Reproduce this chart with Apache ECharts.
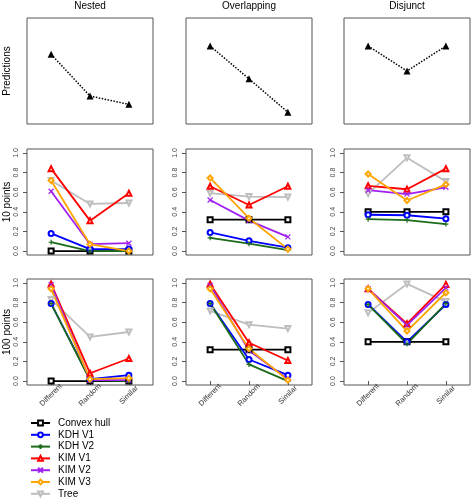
<!DOCTYPE html>
<html>
<head>
<meta charset="utf-8">
<script src="https://cdn.jsdelivr.net/npm/echarts@6/dist/echarts.min.js"></script>
<style>html,body{margin:0;padding:0;background:#fff}#c{width:472px;height:500px}</style>
</head>
<body>
<div id="c"></div>
<script>
// ---- data ----
const categories = ['Different', 'Random', 'Similar'];
const columnTitles = ['Nested', 'Overlapping', 'Disjunct'];
const rowTitles = ['Predictions', '10 points', '100 points'];
const seriesNames = ['Convex hull', 'KDH V1', 'KDH V2', 'KIM V1', 'KIM V2', 'KIM V3', 'Tree'];
const yTicks = [0, 0.2, 0.4, 0.6, 0.8, 1.0];

const predNested = [0.67, 0.245, 0.16];
const predOverlapping = [0.755, 0.42, 0.08];
const predDisjunct = [0.755, 0.5, 0.755];

// rows follow seriesNames order
const nested10 = [
  [0, 0, 0],
  [0.18, 0.02, 0.02],
  [0.09, 0.0, 0.0],
  [0.84, 0.31, 0.59],
  [0.61, 0.07, 0.08],
  [0.72, 0.07, 0.0],
  [0.72, 0.48, 0.49]
];
const overlapping10 = [
  [0.32, 0.32, 0.32],
  [0.19, 0.105, 0.035],
  [0.135, 0.075, 0.01],
  [0.66, 0.47, 0.66],
  [0.52, 0.31, 0.145],
  [0.745, 0.335, 0.02],
  [0.59, 0.555, 0.55]
];
const disjunct10 = [
  [0.40, 0.40, 0.40],
  [0.37, 0.365, 0.33],
  [0.325, 0.315, 0.275],
  [0.665, 0.63, 0.84],
  [0.62, 0.58, 0.65],
  [0.785, 0.515, 0.68],
  [0.585, 0.95, 0.71]
];
const nested100 = [
  [0, 0, 0],
  [0.79, 0.02, 0.06],
  [0.79, 0.01, 0.0],
  [0.99, 0.08, 0.23],
  [0.98, 0.01, 0.01],
  [0.94, 0.02, 0.03],
  [0.83, 0.45, 0.50]
];
const overlapping100 = [
  [0.32, 0.32, 0.32],
  [0.79, 0.22, 0.06],
  [0.79, 0.17, 0.0],
  [0.99, 0.39, 0.21],
  [0.975, 0.31, 0.02],
  [0.94, 0.33, 0.01],
  [0.715, 0.575, 0.535]
];
const disjunct100 = [
  [0.40, 0.40, 0.40],
  [0.78, 0.40, 0.78],
  [0.78, 0.38, 0.79],
  [0.94, 0.585, 0.985],
  [0.94, 0.57, 0.95],
  [0.94, 0.51, 0.90],
  [0.695, 0.99, 0.81]
];

// ---- styling ----
const FONT = '"Liberation Sans", Arial, Helvetica, sans-serif';
const colors = ['#000000', '#0000ff', '#1b6b1b', '#ff0000', '#a020f0', '#ffa500', '#bebebe'];
const symbols = ['emptyRect', 'emptyCircle', 'path://M0,5L10,5M5,0L5,10', 'emptyTriangle',
                 'path://M0,0L10,10M0,10L10,0', 'emptyDiamond', 'emptyTriangle'];
const symbolRot = [0, 0, 0, 0, 0, 0, 180];
const drawOrder = [6, 0, 1, 2, 3, 4, 5];

const colLeft = [27, 186, 344];
const rowTop = [18, 149, 279];
const W = 126, H = 106;

const grids = [], xAxes = [], yAxes = [], series = [];
const panels = [
  [predNested, predOverlapping, predDisjunct],
  [nested10, overlapping10, disjunct10],
  [nested100, overlapping100, disjunct100]
];

function toPts(vals) { return vals.map((v, i) => [i + 1, v]); }

for (let r = 0; r < 3; r++) {
  for (let c = 0; c < 3; c++) {
    const gi = r * 3 + c;
    grids.push({ left: colLeft[c], top: rowTop[r], width: W, height: H, show: true,
      borderColor: '#555', borderWidth: 1, backgroundColor: 'transparent' });
    xAxes.push({
      gridIndex: gi, type: 'value', min: 0.38, max: 3.62,
      axisLine: { show: false }, splitLine: { show: false },
      axisTick: { show: r === 2, length: 4, customValues: [1, 2, 3], lineStyle: { color: '#555' } },
      axisLabel: { show: r === 2, customValues: [1, 2, 3], rotate: 45, fontSize: 7.5, margin: 10,
        align: 'center', verticalAlign: 'middle',
        color: '#333', fontFamily: FONT, formatter: v => categories[Math.round(v) - 1] }
    });
    yAxes.push({
      gridIndex: gi, type: 'value', min: -0.04, max: 1.04,
      axisLine: { show: false }, splitLine: { show: false },
      axisTick: { show: r > 0, length: 4, customValues: yTicks, lineStyle: { color: '#555' } },
      axisLabel: { show: r > 0, customValues: yTicks, rotate: 90, fontSize: 7, margin: 7,
        color: '#444', fontFamily: FONT, formatter: v => v.toFixed(1) }
    });
    const d = panels[r][c];
    if (r === 0) {
      series.push({
        type: 'line', name: 'Predictions', xAxisIndex: gi, yAxisIndex: gi, data: toPts(d),
        symbol: 'triangle', symbolSize: 7,
        itemStyle: { color: '#000' },
        lineStyle: { color: '#000', width: 1.5, type: 'dotted' }
      });
    } else {
      drawOrder.forEach(k => {
        series.push({
          type: 'line', name: seriesNames[k], xAxisIndex: gi, yAxisIndex: gi, data: toPts(d[k]),
          symbol: symbols[k], symbolSize: 5, symbolRotate: symbolRot[k],
          itemStyle: { color: colors[k], borderColor: colors[k], borderWidth: 1.2 },
          lineStyle: { color: colors[k], width: 1.8 }
        });
      });
    }
  }
}

const graphics = [];
columnTitles.forEach((t, c) => {
  graphics.push({ type: 'text', x: colLeft[c] + W / 2, y: 6,
    style: { text: t, fontSize: 10, fontFamily: FONT, fill: '#000', align: 'center', verticalAlign: 'middle' } });
});
rowTitles.forEach((t, r) => {
  graphics.push({ type: 'text', x: 7, y: rowTop[r] + H / 2, rotation: Math.PI / 2,
    style: { text: t, fontSize: 10, fontFamily: FONT, fill: '#000', align: 'center', verticalAlign: 'middle' } });
});

const chart = echarts.init(document.getElementById('c'), null, { renderer: 'canvas' });
chart.setOption({
  animation: false,
  backgroundColor: '#fff',
  grid: grids,
  xAxis: xAxes,
  yAxis: yAxes,
  series: series,
  graphic: graphics,
  legend: {
    data: seriesNames,
    orient: 'vertical',
    left: 30, top: 418, bottom: 0,
    padding: 0,
    itemWidth: 19, itemHeight: 6, itemGap: 1.8,
    textStyle: { fontSize: 10, fontFamily: FONT, color: '#000', lineHeight: 10, padding: [0, 0, 0, 3] }
  }
});
</script>
</body>
</html>
